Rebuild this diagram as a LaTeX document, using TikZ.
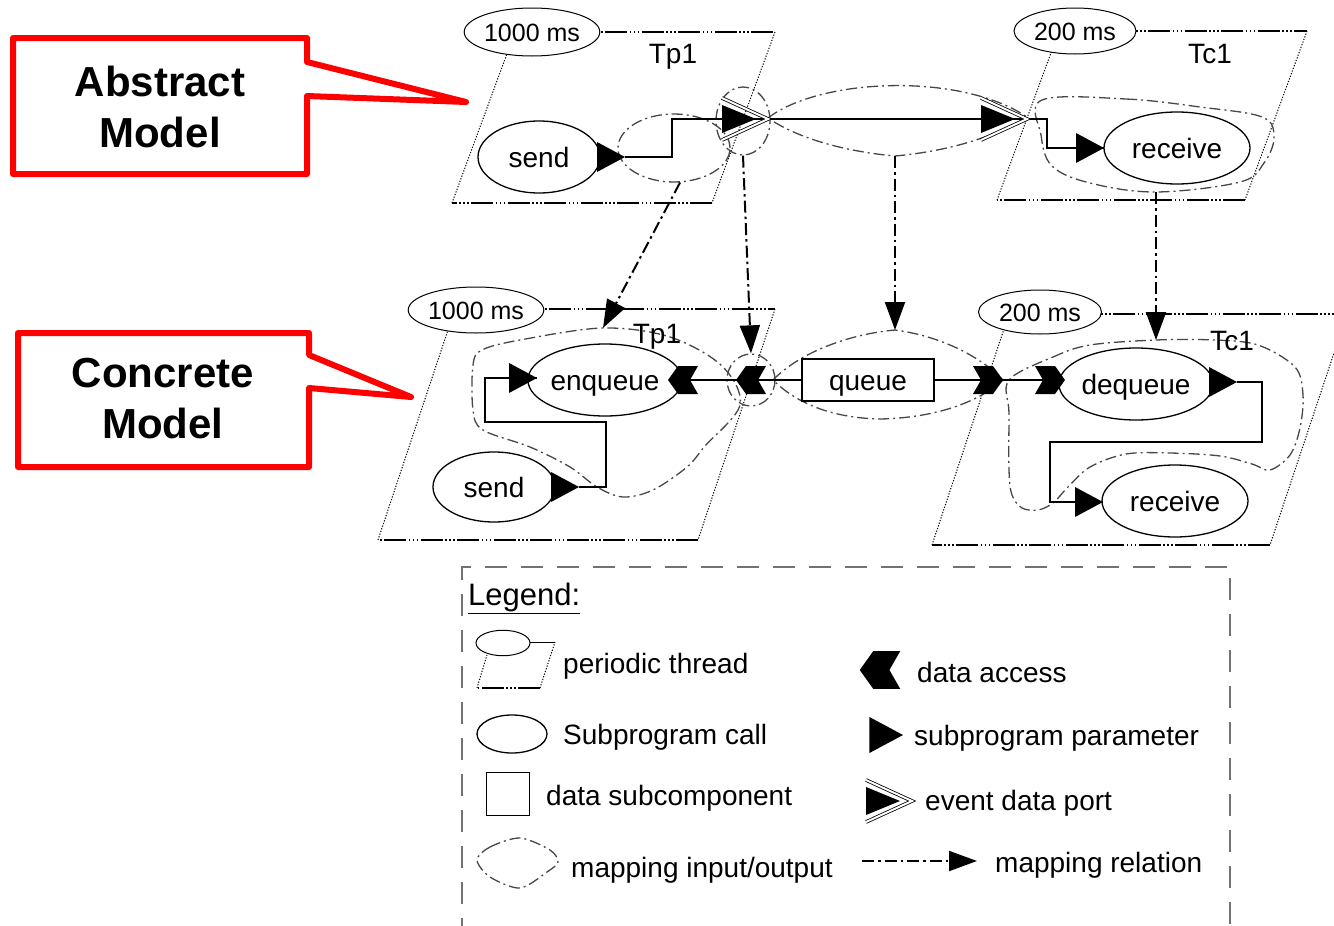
\documentclass[tikz,border=0pt]{standalone}
\usepackage{fontspec}
\setmainfont{Liberation Sans}
\usetikzlibrary{shapes.geometric,arrows.meta}

\tikzset{
  thrside/.style={line width=1pt, dash pattern=on 1.2pt off 1.6pt},
  thredge/.style={line width=1.5pt, dash pattern=on 22pt off 2.5pt on 1.5pt off 2.5pt on 1.5pt off 2.5pt on 1.5pt off 2.5pt},
  period/.style={ellipse, draw, fill=white, line width=1pt, inner sep=0pt,
    minimum width=130pt, minimum height=48pt, text height=18pt, text depth=0pt,
    font=\fontsize{25}{30}\selectfont},
  call/.style={ellipse, draw, fill=white, line width=1.3pt, inner sep=0pt,
    minimum width=146pt, minimum height=72pt, text height=20pt, text depth=0pt,
    font=\fontsize{28}{34}\selectfont},
  lbl/.style={inner sep=0pt, text height=20pt, text depth=0pt, font=\fontsize{28}{34}\selectfont},
  conn/.style={line width=1.4pt},
  mreg/.style={draw, line width=1.3pt, black!72, dash pattern=on 11pt off 4pt on 2pt off 4pt},
  maprel/.style={line width=2pt, dash pattern=on 12pt off 4pt on 2.5pt off 4pt,
    -{Triangle[length=28pt,width=20pt]}},
  callout/.style={draw=red, line width=6pt, line join=round},
  calltext/.style={align=center, font=\fontsize{42}{51}\selectfont\bfseries},
  legframe/.style={line width=1.5pt, black!55, dash pattern=on 22pt off 14pt},
  param/.pic={\fill (-28,-15) -- (0,0) -- (-28,15) -- cycle;},
  daL/.pic={\fill (-15,0) -- (-5,-14) -- (15,-14) -- (7,0) -- (15,14) -- (-5,14) -- cycle;},
  daR/.pic={\fill (15,0) -- (5,-14) -- (-15,-14) -- (-7,0) -- (-15,14) -- (5,14) -- cycle;},
  evport/.pic={
    \draw[line width=0.8pt, double=white, double distance=2pt] (-46,-21) -- (0,0) -- (-46,21);
    \fill (-46,-14) -- (-12,0) -- (-46,14) -- cycle;},
}

\begin{document}
\begin{tikzpicture}[x=1pt,y=-1pt]
\useasboundingbox (0,0) rectangle (1334,926);
\clip (0,0) rectangle (1334,926);

% ---- red callouts ----
\draw[callout] (13,38) -- (307,38) -- (307,62) -- (466,102) -- (307,96) -- (307,174) -- (13,174) -- cycle;
\node[calltext] (abs) at (160,107) {Abstract\\Model};
\draw[callout] (18,333) -- (309,333) -- (309,355) -- (411,397) -- (309,388) -- (309,467) -- (18,467) -- cycle;
\node[calltext] (con) at (163,399) {Concrete\\Model};

% ---- thread outlines ----
% abstract producer
\draw[thredge] (532,32) -- (775,32);
\draw[thrside] (775,32) -- (712,203);
\draw[thredge] (712,203) -- (452,203);
\draw[thrside] (452,203) -- (515,32);
% abstract consumer
\draw[thredge] (1075,31) -- (1307,31);
\draw[thrside] (1307,31) -- (1245,200);
\draw[thredge] (1245,200) -- (997,200);
\draw[thrside] (997,200) -- (1059,31);
% concrete producer
\draw[thredge] (476,309) -- (775,309);
\draw[thrside] (775,309) -- (698,540);
\draw[thredge] (698,540) -- (378,540);
\draw[thrside] (378,540) -- (455,309);
% concrete consumer
\draw[thredge] (1040,314) -- (1347,314);
\draw[thrside] (1347,314) -- (1270,545);
\draw[thredge] (1270,545) -- (932,545);
\draw[thrside] (932,545) -- (1009,314);

% ---- mapping regions ----
\node[ellipse, mreg, minimum width=112pt, minimum height=68pt] (maSend) at (674,148) {};
\node[ellipse, mreg, minimum width=54pt, minimum height=68pt] (maPort) at (743,121) {};
\draw[mreg] (768,118) .. controls (820,78) and (960,72) .. (1027,117)
  .. controls (990,140) and (940,152) .. (895,156)
  .. controls (850,152) and (800,140) .. cycle;
\coordinate (alensB) at (895,156);
\draw[mreg] plot[smooth cycle, tension=0.6] coordinates {(1042,100) (1126,99) (1200,107) (1262,117) (1274,137) (1264,163) (1240,182) (1156,192) (1090,183) (1052,166) (1041,135)};
\coordinate (arecvB) at (1156,192);

\node[ellipse, mreg, minimum width=48pt, minimum height=52pt] (mcPort) at (751,380) {};
\draw[mreg] (773,380) .. controls (800,352) and (850,334) .. (895,330)
  .. controls (940,336) and (980,356) .. (1003,380)
  .. controls (975,405) and (930,418) .. (880,419)
  .. controls (830,418) and (795,402) .. cycle;
\coordinate (clensT) at (895,330);
\draw[mreg] plot[smooth cycle, tension=0.55] coordinates {(603,328) (670,337) (722,366) (740,405) (705,446) (687,467) (653,490) (623,497) (597,487) (570,467) (530,447) (483,430) (473,410) (473,365) (482,350) (520,340)};
\coordinate (cTpT) at (603,328);
\draw[mreg] plot[smooth cycle, tension=0.55] coordinates {(1009,380) (1053,357) (1090,345) (1156,340) (1214,340) (1258,345) (1295,367) (1303,395) (1300,428) (1290,455) (1270,470) (1252,464) (1220,456) (1170,453) (1126,454) (1090,467) (1068,487) (1053,503) (1038,510) (1022,508) (1012,495) (1009,470) (1009,413)};
\coordinate (cTcT) at (1156,340);

% ---- periods and thread names ----
\node[period] (aTpPer) at (532,32) {1000 ms};
\node[period, minimum width=122pt, minimum height=46pt] (aTcPer) at (1075,31) {200 ms};
\node[period, minimum width=131pt, minimum height=46pt] (cTpPer) at (476,310) {1000 ms};
\node[period, minimum width=123pt, minimum height=44pt] (cTcPer) at (1040,312) {200 ms};
\node[lbl] (aTpName) at (673,53) {Tp1};
\node[lbl] (aTcName) at (1210,53) {Tc1};
\node[lbl] (cTpName) at (657,333) {Tp1};
\node[lbl] (cTcName) at (1232,340) {Tc1};

% ---- subprogram calls and data ----
\node[call, minimum width=122pt] (aSend) at (539,157) {send};
\node[call] (aRecv) at (1177,148) {receive};
\node[call, minimum width=148pt] (cEnq) at (605,380) {enqueue};
\node[call, minimum width=122pt, minimum height=70pt] (cSend) at (494,487) {send};
\node[call] (cDeq) at (1136,384) {dequeue};
\node[call] (cRecv) at (1175,501) {receive};
\node[draw, fill=white, line width=1.3pt, minimum width=132pt, minimum height=42pt, inner sep=0pt,
  text height=20pt, text depth=0pt, font=\fontsize{28}{34}\selectfont] (queue) at (868,380) {queue};

% ---- ports ----
\coordinate (aSendP) at (625,157);
\coordinate (apOut) at (768,119);
\coordinate (acIn) at (1027,119);
\coordinate (aRecvP) at (1104,148);
\coordinate (cEnqP) at (537,378);
\coordinate (cSendP) at (579,487);
\coordinate (eqA) at (683,380);
\coordinate (tpA) at (751,380);
\coordinate (tcA) at (988,380);
\coordinate (dqA) at (1050,380);
\coordinate (cDeqP) at (1237,382);
\coordinate (cRecvP) at (1103,502);

% ---- connections ----
\draw[conn] (aSendP) -- ++(47,0) |- (apOut);
\draw[conn] (apOut) -- (acIn);
\draw[conn] (acIn) -- ++(20,0) |- (aRecvP);
\draw[conn] (cSendP) -- ++(27,0) |- ++(-121,-65) |- (cEnqP);
\draw[conn] (eqA) -- (tpA);
\draw[conn] (tpA) -- (queue.west);
\draw[conn] (queue.east) -- (tcA) -- (dqA);
\draw[conn] (cDeqP) -- ++(25,0) |- ++(-212,60) |- (cRecvP);

\pic at (aSendP) {param};
\pic at (apOut) {evport};
\pic at (acIn) {evport};
\pic at (aRecvP) {param};
\pic at (cEnqP) {param};
\pic at (cSendP) {param};
\pic at (eqA) {daL};
\pic at (tpA) {daL};
\pic at (tcA) {daR};
\pic at (dqA) {daR};
\pic at (cDeqP) {param};
\pic at (cRecvP) {param};

% ---- mapping relations ----
\draw[maprel] (maSend.-80) -- (cTpT);
\draw[maprel] (maPort.south) -- (mcPort.north);
\draw[maprel] (alensB) -- (clensT);
\draw[maprel] (arecvB) -- (cTcT);

% ---- legend ----
\draw[legframe] (462,940) -- (462,567) -- (1230,567) -- (1230,940);
\node[lbl, anchor=west, text height=23pt, font=\fontsize{31}{36}\selectfont] (legT) at (468,594) {\underline{Legend:}};
\draw[thredge] (540,688) -- (477,688);
\draw[thrside] (540,688) -- (555,642);
\draw[line width=1pt] (503,642) -- (555,642);
\draw[thrside] (477,688) -- (487,655);
\node[period, minimum width=54pt, minimum height=23pt] (legPer) at (503,643) {};
\node[lbl, anchor=west] (legPerT) at (563,663) {periodic thread};
\node[call, minimum width=70pt, minimum height=38pt] (legCall) at (512,734) {};
\node[lbl, anchor=west] (legCallT) at (563,734) {Subprogram call};
\node[draw, line width=1.3pt, minimum width=43pt, minimum height=43pt, inner sep=0pt] (legData) at (508,794) {};
\node[lbl, anchor=west] (legDataT) at (546,795) {data subcomponent};
\draw[mreg] plot[smooth cycle] coordinates {(477,860) (490,847) (520,838) (550,850) (558,862) (547,872) (520,888) (490,877)};
\node[lbl, anchor=west] (legMapT) at (571,867) {mapping input/output};
\pic[scale=1.35] at (880,670) {daL};
\node[lbl, anchor=west] (legDaT) at (917,672) {data access};
\pic[scale=1.2] at (903,735) {param};
\node[lbl, anchor=west] (legParT) at (914,735) {subprogram parameter};
\pic at (912,801) {evport};
\node[lbl, anchor=west] (legEvT) at (925,800) {event data port};
\coordinate (legMapA) at (862,861);
\coordinate (legMapB) at (977,861);
\draw[maprel] (legMapA) -- (legMapB);
\node[lbl, anchor=west] (legRelT) at (995,862) {mapping relation};
\end{tikzpicture}
\end{document}
